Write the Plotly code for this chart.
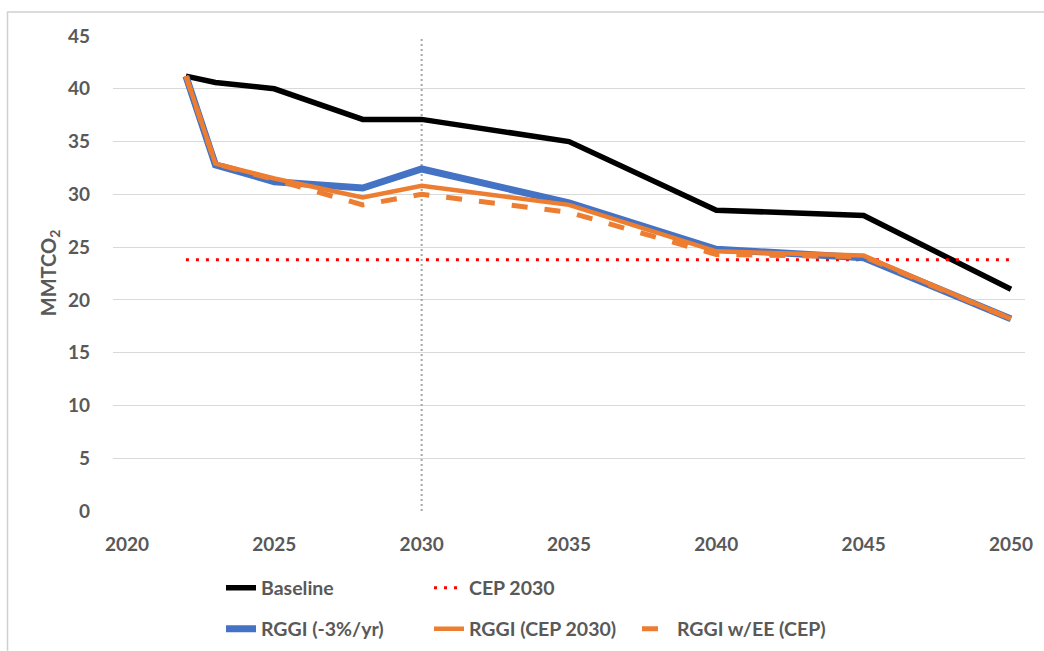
import plotly.graph_objects as go

# ---- data ----
years = [2022, 2023, 2025, 2028, 2030, 2035, 2040, 2045, 2050]
baseline = [41.2, 40.6, 40.0, 37.1, 37.1, 35.0, 28.5, 28.0, 21.0]
rggi_3pct = [41.2, 32.8, 31.2, 30.6, 32.4, 29.2, 24.8, 24.0, 18.2]
rggi_cep = [41.2, 32.9, 31.5, 29.7, 30.8, 29.0, 24.6, 24.2, 18.2]
rggi_ee = [41.2, 32.9, 31.4, 29.0, 30.0, 28.3, 24.3, 24.1, 18.2]
cep_years = [2022, 2050]
cep_2030 = [23.8, 23.8]
marker_year = [2030, 2030]
marker_range = [0, 45]
x_ticks = [2020, 2025, 2030, 2035, 2040, 2045, 2050]
y_ticks = [0, 5, 10, 15, 20, 25, 30, 35, 40, 45]

W, H = 1044, 651
L, R, T, B = 113, 19, 35.5, 140
PW, PH = W - L - R, H - T - B

def px_x(p):
    return (p - L) / PW

def px_y(p):
    return (H - B - p) / PH

TXT = "#595959"
FONT = "Lato"

fig = go.Figure()

fig.add_trace(go.Scatter(x=marker_year, y=marker_range, mode="lines",
                         line=dict(color="#A6A6A6", width=2, dash="2px,3px"),
                         showlegend=False, hoverinfo="skip"))
fig.add_trace(go.Scatter(x=years, y=baseline, mode="lines", name="Baseline",
                         line=dict(color="#000000", width=5.5), legend="legend"))
fig.add_trace(go.Scatter(x=cep_years, y=cep_2030, mode="lines", name="CEP 2030",
                         line=dict(color="#FF0000", width=3, dash="3px,7px"), legend="legend"))
fig.add_trace(go.Scatter(x=years, y=rggi_3pct, mode="lines", name="RGGI (-3%/yr)",
                         line=dict(color="#4472C4", width=7), legend="legend2"))
fig.add_trace(go.Scatter(x=years, y=rggi_cep, mode="lines", name="RGGI (CEP 2030)",
                         line=dict(color="#ED7D31", width=4.5), legend="legend2"))
fig.add_trace(go.Scatter(x=years, y=rggi_ee, mode="lines", name="RGGI w/EE (CEP)",
                         line=dict(color="#ED7D31", width=5, dash="16px,17px"), legend="legend2"))

legend_common = dict(orientation="h", xanchor="left", yanchor="middle",
                     xref="container", yref="container",
                     font=dict(family=FONT, size=19.5, color=TXT, weight="bold"),
                     entrywidth=163, entrywidthmode="pixels",
                     bgcolor="rgba(0,0,0,0)", traceorder="normal")

fig.update_layout(
    width=W, height=H,
    margin=dict(l=L, r=R, t=T, b=B, pad=0, autoexpand=False),
    paper_bgcolor="white", plot_bgcolor="white",
    font=dict(family=FONT, color=TXT),
    xaxis=dict(range=[2019.525, 2050.475], tickvals=x_ticks, showgrid=False,
               zeroline=False, showline=False, ticks="",
               tickfont=dict(family=FONT, size=19, color=TXT, weight="bold"),
               ticklabelstandoff=20),
    yaxis=dict(range=[0, 45], tickvals=y_ticks, showgrid=True, gridcolor="#D9D9D9",
               gridwidth=1.3, zeroline=False, showline=False, ticks="",
               tickfont=dict(family=FONT, size=19, color=TXT, weight="bold"),
               ticklabelstandoff=22),
    legend=dict(x=221 / W, y=1 - 588 / H, **legend_common),
    legend2=dict(x=221 / W, y=1 - 629 / H, **legend_common),
    annotations=[dict(text="<b>MMTCO<sub>2</sub></b>", textangle=-90,
                      x=px_x(49), y=px_y(273), xref="paper", yref="paper",
                      xanchor="center", yanchor="middle", showarrow=False,
                      font=dict(family=FONT, size=20, color=TXT))],
    shapes=[
        dict(type="line", xref="paper", yref="paper", layer="above",
             x0=px_x(7), x1=px_x(W), y0=px_y(11.5), y1=px_y(11.5),
             line=dict(color="#D0D0D0", width=1.5)),
        dict(type="line", xref="paper", yref="paper", layer="above",
             x0=px_x(7.5), x1=px_x(7.5), y0=px_y(11.5), y1=px_y(H),
             line=dict(color="#D0D0D0", width=1.5)),
    ],
)

fig.write_html("out.html", post_script="document.body.style.margin='0';",
               config={"displayModeBar": False})
